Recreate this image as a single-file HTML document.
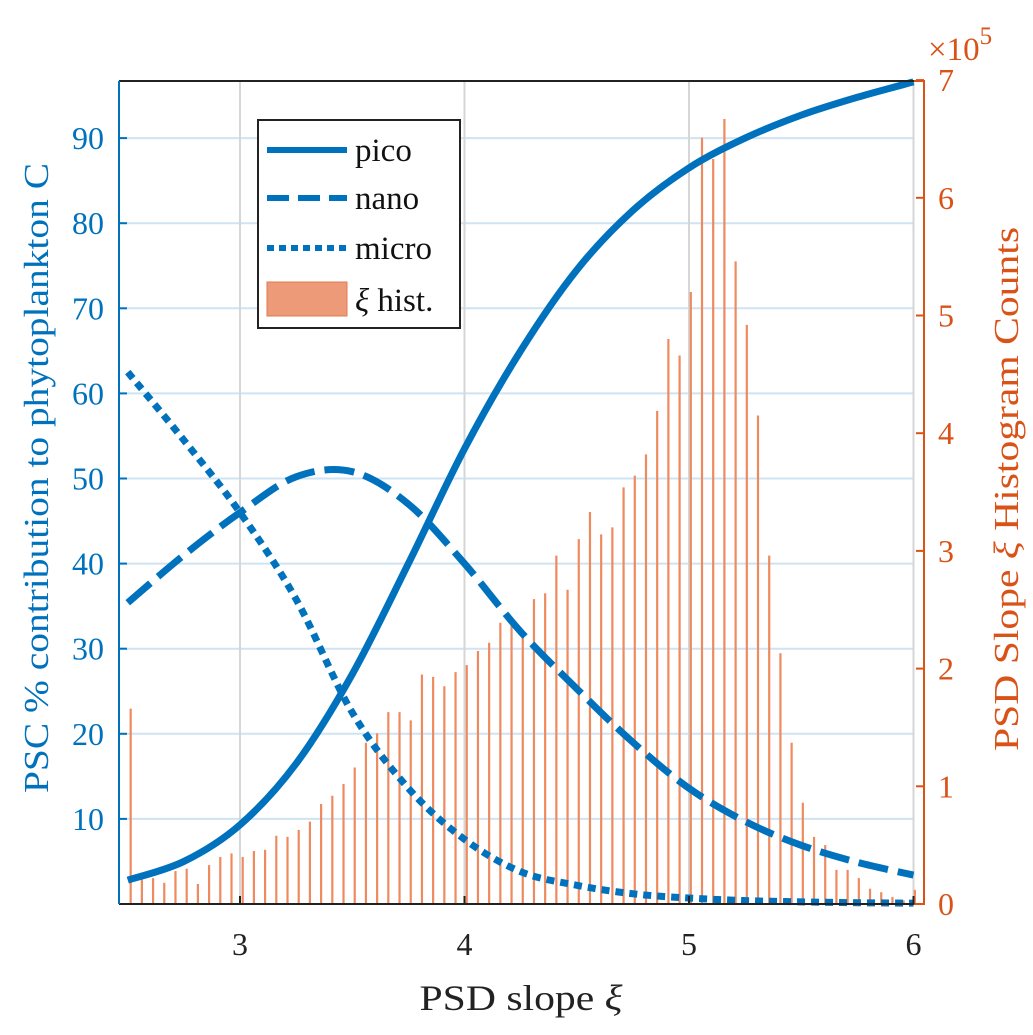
<!DOCTYPE html>
<html><head><meta charset="utf-8"><style>
body{margin:0;background:#fff;}
svg{display:block;font-family:"Liberation Serif",serif;}
</style></head><body>
<svg id="chart" width="1033" height="1035" viewBox="0 0 1033 1035" xmlns="http://www.w3.org/2000/svg">
<rect width="1033" height="1035" fill="#fff"/>
<g id="grid"></g>
<g id="hist"></g>
<g id="curves"></g>
<g id="axes"></g>
<g id="legend">
<rect x="258" y="120" width="202" height="208" fill="#fff" stroke="#222" stroke-width="2"/>
<line x1="267" y1="150" x2="347" y2="150" stroke="#0072BD" stroke-width="6"/>
<text x="355" y="161" font-size="33" fill="#111">pico</text>
<line x1="267" y1="198" x2="347" y2="198" stroke="#0072BD" stroke-width="6" stroke-dasharray="22,9"/>
<text x="355" y="209" font-size="33" fill="#111">nano</text>
<line x1="267" y1="248" x2="347" y2="248" stroke="#0072BD" stroke-width="6" stroke-dasharray="7,5"/>
<text x="355" y="259" font-size="33" fill="#111">micro</text>
<rect x="267" y="282" width="80" height="34" fill="#EC9A78" stroke="#E07A50" stroke-width="1"/>
<text x="355" y="311" font-size="33" fill="#111"><tspan font-style="italic">ξ</tspan> hist.</text>
</g>
</svg>
<script>
const xiGrid = [2.5,2.75,3,3.25,3.5,3.75,4,4.25,4.5,4.75,5,5.25,5.5,5.75,6];
const picoVals = [2.8,5.0,9.3,16.5,27,40,53.5,65,74.5,81.5,86.5,90,92.7,94.8,96.6];
const nanoVals = [35.4,41,46,50.2,50.8,47,40,32,25.3,19,13.6,9.7,6.9,4.9,3.4];
const microVals = [62.5,54.5,46,35.8,22.5,13.6,7.6,3.8,2.2,1.2,0.7,0.4,0.25,0.15,0.1];
const histStart = 2.513;
const histStep = 0.0499;
const histCounts = [1.66,0.24,0.22,0.18,0.28,0.30,0.17,0.33,0.40,0.43,0.40,0.45,0.46,0.58,0.57,0.63,0.70,0.85,0.92,1.02,1.16,1.37,1.45,1.63,1.63,1.56,1.95,1.93,1.85,1.97,2.03,2.15,2.22,2.39,2.41,2.29,2.59,2.64,2.96,2.67,3.10,3.33,3.14,3.20,3.54,3.64,3.82,4.19,4.80,4.66,5.20,6.51,6.33,6.67,5.46,4.92,4.15,2.96,2.13,1.37,0.86,0.57,0.50,0.29,0.29,0.22,0.13,0.10,0.06,0.03,0.12];
const xTicks = [3,4,5,6];
const yLeftTicks = [10,20,30,40,50,60,70,80,90];
const yRightTicks = [0,1,2,3,4,5,6,7];

const NS="http://www.w3.org/2000/svg";
const X0=119, X1=924, YT=81, YB=904;
function xs(v){return 240+(v-3)*224.5;}
function yl(v){return 904-v*8.51;}
function yr(v){return 904-v*117.7;}
function mk(tag,attrs,parent,txt){const e=document.createElementNS(NS,tag);for(const k in attrs)e.setAttribute(k,attrs[k]);if(txt!==undefined)e.textContent=txt;parent.appendChild(e);return e;}
const grid=document.getElementById('grid'),hist=document.getElementById('hist'),curves=document.getElementById('curves'),axes=document.getElementById('axes');

yLeftTicks.forEach(t=>{const e=mk('line',{x1:X0,x2:914,y1:yl(t),y2:yl(t),stroke:'#cfe3f3','stroke-width':2},grid);

});
xTicks.forEach(t=>{const e=mk('line',{x1:xs(t),x2:xs(t),y1:YT,y2:YB,stroke:'#d6d6d6','stroke-width':2},grid);

});

histCounts.forEach((c,i)=>{const x=xs(histStart+i*histStep);if(x>916)return;
const e=mk('line',{x1:x,x2:x,y1:YB,y2:yr(c),stroke:'#EE8A5E','stroke-width':2.2},hist);

});

function smoothPath(xv,yv,fy){
  const pts=xv.map((x,i)=>[xs(x),fy(yv[i])]);
  let d='M'+pts[0][0]+','+pts[0][1];
  for(let i=0;i<pts.length-1;i++){
    const p0=pts[Math.max(0,i-1)],p1=pts[i],p2=pts[i+1],p3=pts[Math.min(pts.length-1,i+2)];
    const c1=[p1[0]+(p2[0]-p0[0])/6,p1[1]+(p2[1]-p0[1])/6];
    const c2=[p2[0]-(p3[0]-p1[0])/6,p2[1]-(p3[1]-p1[1])/6];
    d+=` C${c1[0]},${c1[1]} ${c2[0]},${c2[1]} ${p2[0]},${p2[1]}`;
  }
  return d;
}
const pm=mk('path',{d:smoothPath(xiGrid,microVals,yl),fill:'none',stroke:'#0072BD','stroke-width':7,'stroke-dasharray':'8,6'},curves);


const pn=mk('path',{d:smoothPath(xiGrid,nanoVals,yl),fill:'none',stroke:'#0072BD','stroke-width':7,'stroke-dasharray':'30,10'},curves);


const pp=mk('path',{d:smoothPath(xiGrid,picoVals,yl),fill:'none',stroke:'#0072BD','stroke-width':7},curves);



let a;
a=mk('line',{x1:X0,x2:914,y1:YT,y2:YT,stroke:'#222','stroke-width':2},axes);


a=mk('line',{x1:X0,x2:914,y1:YB,y2:YB,stroke:'#222','stroke-width':2},axes);


a=mk('polyline',{points:`914,${YT} ${X1},${YT} ${X1},${YB} 914,${YB}`,fill:'none',stroke:'#D95319','stroke-width':2},axes);


a=mk('line',{x1:X0,x2:X0,y1:YT,y2:YB,stroke:'#0072BD','stroke-width':2},axes);



xTicks.forEach(t=>{mk('line',{x1:xs(t),x2:xs(t),y1:YB,y2:YB-8,stroke:'#222','stroke-width':2},axes);
const e=mk('text',{x:xs(t),y:955,'font-size':32,fill:'#222','text-anchor':'middle'},axes,String(t));

});
yLeftTicks.forEach(t=>{mk('line',{x1:X0,x2:X0+8,y1:yl(t),y2:yl(t),stroke:'#0072BD','stroke-width':2},axes);
const e=mk('text',{x:104,y:yl(t)+11,'font-size':32,fill:'#0072BD','text-anchor':'end'},axes,String(t));

});
yRightTicks.forEach(t=>{mk('line',{x1:X1,x2:X1-8,y1:yr(t),y2:yr(t),stroke:'#D95319','stroke-width':2},axes);
const e=mk('text',{x:938,y:yr(t)+11,'font-size':32,fill:'#D95319','text-anchor':'start'},axes,String(t));

});

let t;
t=mk('text',{x:928,y:60,'font-size':33,fill:'#D95319'},axes,'×10');


mk('tspan',{dy:-16,'font-size':25},t,'5');
t=mk('text',{x:521,y:1010,'font-size':36,fill:'#222','text-anchor':'middle',textLength:203,lengthAdjust:'spacingAndGlyphs'},axes,'PSD slope ');


mk('tspan',{'font-style':'italic'},t,'ξ');
t=mk('text',{x:0,y:0,'font-size':35,fill:'#0072BD','text-anchor':'middle',textLength:630,lengthAdjust:'spacingAndGlyphs',transform:'translate(48,478) rotate(-90)'},axes,'PSC % contribution to phytoplankton C');


t=mk('text',{x:0,y:0,'font-size':35,fill:'#D95319','text-anchor':'middle',textLength:524,lengthAdjust:'spacingAndGlyphs',transform:'translate(1018,489) rotate(-90)'},axes,'PSD Slope ');


mk('tspan',{'font-style':'italic'},t,'ξ');
mk('tspan',{},t,' Histogram Counts');
</script>
</body></html>
